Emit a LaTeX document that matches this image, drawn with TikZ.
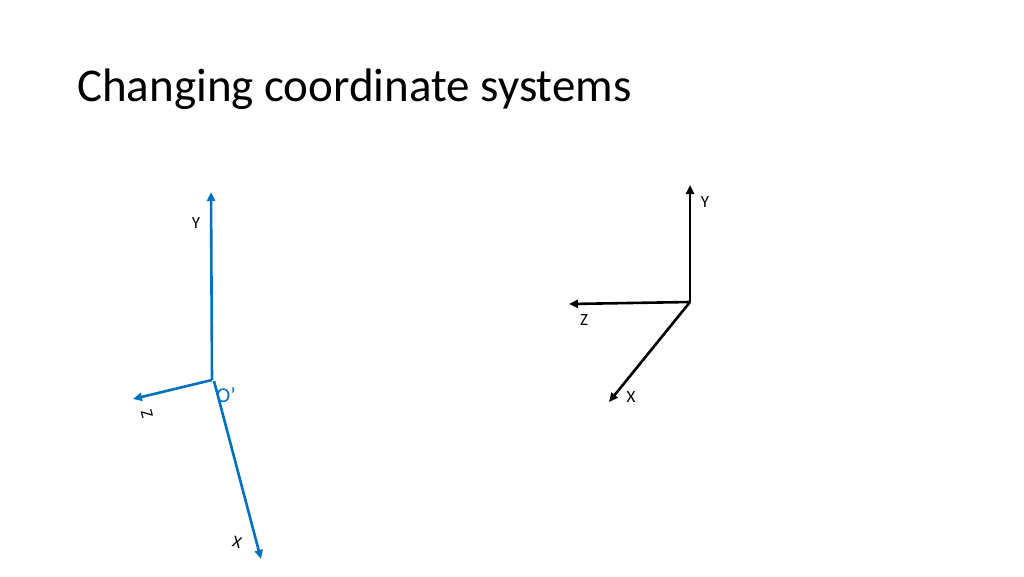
\documentclass[tikz,border=0pt]{standalone}
\usepackage{fontspec}
\setmainfont{Carlito}
\usetikzlibrary{arrows.meta}
\definecolor{axblue}{RGB}{0,112,192}
\begin{document}
\begin{tikzpicture}[x=1pt,y=-1pt,
  blueax/.style={draw=axblue,line width=2.6pt,-{Triangle[length=9pt,width=8pt]}},
  blackax/.style={draw=black,line width=2.6pt,-{Triangle[length=9pt,width=8pt]}},
  lbl/.style={font=\fontsize{17}{19}\selectfont,inner sep=0pt}]
\useasboundingbox[fill=white] (0,0) rectangle (1024,576);
\node[anchor=west,inner sep=0pt,font=\fontsize{47}{52}\selectfont] (title) at (77,89) {Changing coordinate systems};
% blue frame
\coordinate (bo) at (212,380);
\coordinate (bx0) at (214,381);
\coordinate (by) at (211,192);
\coordinate (bz) at (133,399);
\coordinate (bx) at (261,559);
\draw[blueax] (bo) -- (by);
\draw[blueax] (bo) -- (bz);
\draw[blueax] (bx0) -- (bx);
\node[lbl] (ly) at (196,223) {Y};
\node[lbl,rotate=-75] (lz) at (147,414) {Z};
\node[lbl,rotate=-15] (lx) at (237,542) {X};
\node[font=\fontsize{21}{24}\selectfont,text=axblue,inner sep=0pt] (lo) at (226,395) {O’};
% black frame
\coordinate (ko) at (690,302);
\coordinate (ky) at (690,185);
\coordinate (kz) at (569,304);
\coordinate (kx) at (609,402);
\draw[blackax] (ko) -- (ky);
\draw[blackax] (ko) -- (kz);
\draw[blackax] (ko) -- (kx);
\node[lbl] (kly) at (705,202) {Y};
\node[lbl] (klz) at (584,320) {Z};
\node[lbl] (klx) at (631,397) {X};
\end{tikzpicture}
\end{document}
